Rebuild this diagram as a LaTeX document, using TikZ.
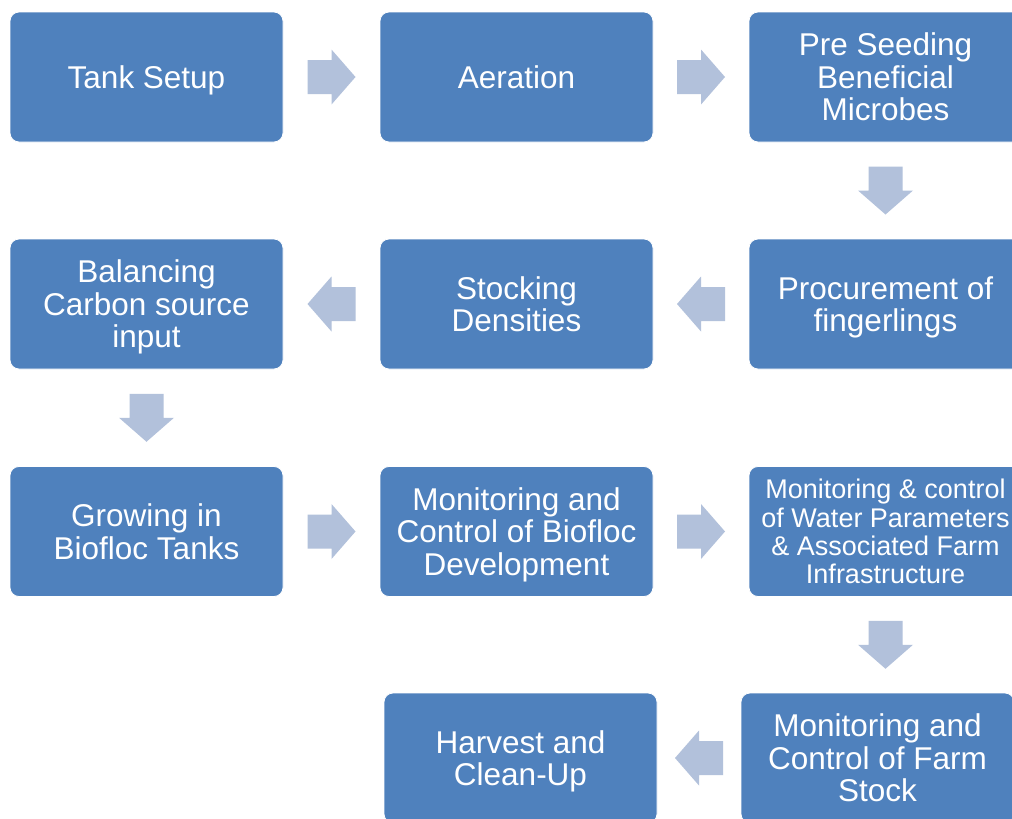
\documentclass[tikz,border=0pt]{standalone}
\usepackage{fontspec}
\setmainfont{Liberation Sans}
\usetikzlibrary{calc}
\definecolor{boxblue}{HTML}{4F81BD}
\definecolor{arrowblue}{HTML}{B2C1DB}
% invisible struts: fixed room above the first line and below the last one
\newcommand\topline{\rule{0pt}{0.927em}}
\newcommand\lastline{\rule[-0.21em]{0pt}{0pt}}
\tikzset{
  stepbox/.style={rectangle, rounded corners=9pt, fill=boxblue, draw=white,
    line width=0.8pt, minimum width=273pt, minimum height=130pt, inner sep=0pt,
    text=white, align=center, font=\fontsize{31.5}{32.5}\selectfont},
  smalltext/.style={font=\fontsize{27}{28.3}\selectfont},
  arrowfill/.style={fill=arrowblue, draw=none},
  % block arrow pointing along +x, centred on its position
  pics/blockarrow/.style={code={
    \fill[arrowfill] (-24,-17) -- (0,-17) -- (0,-27.5) -- (24,0)
      -- (0,27.5) -- (0,17) -- (-24,17) -- cycle;}},
}
\begin{document}
\begin{tikzpicture}[x=1pt,y=-1pt]
\useasboundingbox (0,0) rectangle (1012,819);
\clip (0,0) rectangle (1012,819);
\fill[white] (0,0) rectangle (1012,819);

% process steps, row by row
\node[stepbox] (tank)    at (146.5,77)  {\topline Tank Setup\lastline};
\node[stepbox] (aer)     at (516.5,77)  {\topline Aeration\lastline};
\node[stepbox] (seed)    at (885.5,77)  {\topline Pre Seeding\\Beneficial\\Microbes\lastline};

\node[stepbox] (carbon)  at (146.5,304) {\topline Balancing\\Carbon source\\input\lastline};
\node[stepbox] (stock)   at (516.5,304) {\topline Stocking\\Densities\lastline};
\node[stepbox] (finger)  at (885.5,304) {\topline Procurement of\\fingerlings\lastline};

\node[stepbox] (grow)    at (146.5,531.5) {\topline Growing in\\Biofloc Tanks\lastline};
\node[stepbox] (floc)    at (516.5,531.5) {\topline Monitoring and\\Control of Biofloc\\Development\lastline};
\node[stepbox, smalltext] (water) at (885.5,531.5) {\topline Monitoring \& control\\of Water Parameters\\\& Associated Farm\\Infrastructure\lastline};

\node[stepbox] (harvest) at (520.5,758) {\topline Harvest and\\Clean-Up\lastline};
\node[stepbox] (farm)    at (877.5,758) {\topline Monitoring and\\Control of Farm\\Stock\lastline};

% block arrows between consecutive steps
\pic              at ($(tank.east)!0.5!(aer.west)$) {blockarrow};
\pic              at ($(aer.east)!0.5!(seed.west)$) {blockarrow};
\pic[rotate=-90]  at ($(seed.south)!0.5!(finger.north)$) {blockarrow};
\pic[rotate=180]  at ($(finger.west)!0.5!(stock.east)$) {blockarrow};
\pic[rotate=180]  at ($(stock.west)!0.5!(carbon.east)$) {blockarrow};
\pic[rotate=-90]  at ($(carbon.south)!0.5!(grow.north)$) {blockarrow};
\pic              at ($(grow.east)!0.5!(floc.west)$) {blockarrow};
\pic              at ($(floc.east)!0.5!(water.west)$) {blockarrow};
\pic[rotate=-90]  at ($(water.south)!0.5!(farm.north -| water.south)$) {blockarrow};
\pic[rotate=180]  at ($(farm.west)!0.5!(harvest.east)$) {blockarrow};
\end{tikzpicture}
\end{document}
